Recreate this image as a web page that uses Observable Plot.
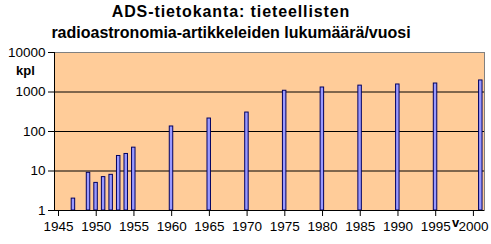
<!DOCTYPE html>
<html>
<head>
<meta charset="utf-8">
<script src="https://cdn.jsdelivr.net/npm/d3@7"></script>
<script src="https://cdn.jsdelivr.net/npm/@observablehq/plot@0.6"></script>
<style>
  body { margin: 0; background: #fff; font-family: "Liberation Sans", Arial, sans-serif; }
  #wrap { position: relative; width: 491px; height: 244px; }
  .title { position: absolute; left: 0; width: 462px; text-align: center; font-weight: bold; font-size: 16px; color: #000; white-space: nowrap; }
  .lab { position: absolute; font-weight: bold; font-size: 13px; color: #000; }
  svg { position: absolute; left: 0; top: 0; }
</style>
</head>
<body>
<div id="wrap"></div>
<script>
const years  = [1947, 1949, 1950, 1951, 1952, 1953, 1954, 1955, 1960, 1965, 1970, 1975, 1980, 1985, 1990, 1995, 2001];
const counts = [2, 9, 5, 7, 8, 24, 27, 39, 134, 213, 302, 1075, 1300, 1450, 1550, 1640, 1960];
const xTicks = [1945, 1950, 1955, 1960, 1965, 1970, 1975, 1980, 1985, 1990, 1995, 2000];
const yTicks = [1, 10, 100, 1000, 10000];
const titleLines = ["ADS-tietokanta: tieteellisten", "radioastronomia-artikkeleiden lukumäärä/vuosi"];

const data = years.map((y, i) => ({year: y, count: counts[i]}));

const chart = Plot.plot({
  width: 491,
  height: 244,
  marginTop: 52,
  marginBottom: 34,
  marginLeft: 54,
  marginRight: 7,
  style: {fontFamily: '"Liberation Sans", Arial, sans-serif', fontSize: "13.5px", color: "#000", background: "transparent"},
  x: {domain: [1945, 2002], ticks: xTicks, tickFormat: d => String(d), label: null},
  y: {type: "log", domain: [1, 10000], ticks: yTicks, tickFormat: d => String(d), label: null},
  marks: [
    Plot.frame({fill: "#FFCC99", stroke: "none"}),
    Plot.ruleY([10, 100, 1000], {stroke: "#000", strokeWidth: 1}),
    Plot.rectY(data, {x1: d => d.year + 0.28, x2: d => d.year + 0.74, y1: 1, y2: "count", fill: "#9999FF", stroke: "#000060", strokeWidth: 1}),
    Plot.frame({stroke: "#808080", fill: "none"}),
    Plot.ruleY([1], {stroke: "#000"}),
    Plot.ruleX([1945], {stroke: "#000"}),
    Plot.axisX({ticks: xTicks, tickFormat: d => String(d), tickSize: 6, tickPadding: 5, stroke: "#000", fontSize: 13.5, dx: 4, label: null}),
    Plot.axisY({ticks: yTicks, tickFormat: d => String(d), tickSize: 6, tickPadding: 3, stroke: "#000", fontSize: 13.5, label: null})
  ]
});

const wrap = document.getElementById("wrap");
wrap.appendChild(chart);
titleLines.forEach((t, i) => {
  const d = document.createElement("div");
  d.className = "title";
  d.style.top = (3 + i * 21) + "px";
  if (i === 0) d.style.letterSpacing = "0.9px";
  d.textContent = t;
  wrap.appendChild(d);
});
const kpl = document.createElement("div");
kpl.className = "lab"; kpl.style.left = "16px"; kpl.style.top = "63px"; kpl.textContent = "kpl";
wrap.appendChild(kpl);
const v = document.createElement("div");
v.className = "lab"; v.style.left = "452px"; v.style.top = "215px"; v.textContent = "v";
wrap.appendChild(v);
</script>
</body>
</html>
